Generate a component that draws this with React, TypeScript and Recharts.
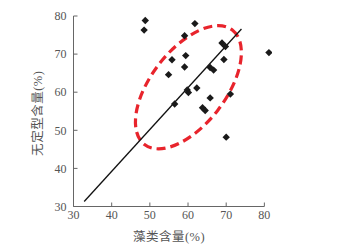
import React from 'react';
import { ScatterChart, Scatter, XAxis, YAxis, ReferenceLine, ReferenceArea } from 'recharts';

// 藻类含量 (x) vs 无定型含量 (y)
const algae = [48.8, 48.5, 61.8, 59.1, 54.9, 55.8, 59.4, 59.1, 59.8, 60.1, 62.3, 56.5, 65.8, 63.8, 64.5, 65.8, 66.7, 68.9, 69.8, 69.4, 71.1, 70.0, 81.2];
const amorphous = [78.8, 76.3, 78.0, 74.8, 64.6, 68.5, 69.6, 66.6, 60.6, 59.9, 61.1, 56.9, 58.5, 55.9, 55.2, 66.5, 65.8, 72.9, 72.0, 68.6, 59.5, 48.2, 70.4];

const ticks = [30, 40, 50, 60, 70, 80];
const fitStart = { x: 32.8, y: 31.3 };
const fitEnd = { x: 74.0, y: 76.6 };

// dashed ellipse annotation (data units, before rotation)
const ellipseCenter = { x: 60.1, y: 61.3 };
const ellipseRadius = { major: 18.9, minor: 9.8 };
const ellipseAngle = 52.5;

const points = algae.map((x, i) => ({ x, y: amorphous[i] }));

const FONT = '"Liberation Serif", "Noto Sans CJK SC", serif';
const AXIS = '#666';

const Diamond = (props: any) => {
  const { cx, cy } = props;
  const r = 3.7;
  return <polygon points={`${cx},${cy - r} ${cx + r},${cy} ${cx},${cy + r} ${cx - r},${cy}`} fill="#1a1a1a" />;
};

const EllipseShape = (props: any) => {
  const { x, y, width, height } = props;
  const cx = x + width / 2;
  const cy = y + height / 2;
  return (
    <ellipse
      cx={cx}
      cy={cy}
      rx={width / 2}
      ry={Math.abs(height) / 2}
      fill="none"
      stroke="#e8242c"
      strokeWidth={3.2}
      strokeDasharray="9 5"
      transform={`rotate(${-ellipseAngle} ${cx} ${cy})`}
    />
  );
};

export default function App() {
  return (
    <div style={{ position: 'absolute', left: 0, top: 0, background: '#fff' }}>
      <ScatterChart width={342} height={249} margin={{ top: 16, right: 70, bottom: 0, left: 0 }} style={{ fontFamily: FONT }}>
        <XAxis
          type="number"
          dataKey="x"
          domain={[30, 82]}
          ticks={ticks}
          allowDataOverflow
          axisLine={false}
          tickSize={-4}
          tickMargin={8}
          tickLine={{ stroke: AXIS }}
          tick={{ fill: '#555', fontSize: 12, fontFamily: FONT }}
          height={42.5}
          label={{
            value: '藻类含量(%)',
            content: (p: any) => {
              const vb = p.viewBox;
              return (
                <text x={vb.x + 95.5} y={vb.y + 30.5} dy="0.35em" textAnchor="middle" fill="#555" fontSize={12.5} letterSpacing={0.5} fontFamily={FONT}>
                  藻类含量(%)
                </text>
              );
            },
          }}
        />
        <YAxis
          type="number"
          dataKey="y"
          domain={[30, 80]}
          ticks={ticks}
          allowDataOverflow
          width={73.5}
          axisLine={{ stroke: AXIS }}
          tickSize={-4}
          tickMargin={11}
          tickLine={{ stroke: AXIS }}
          tick={{ fill: '#555', fontSize: 12, fontFamily: FONT }}
          label={{
            value: '无定型含量(%)',
            content: (p: any) => {
              const vb = p.viewBox;
              const cx = vb.x + 38;
              const cy = vb.y + vb.height / 2 + 2;
              return (
                <text x={cx} y={cy} dy="0.35em" textAnchor="middle" fill="#555" fontSize={12.5} letterSpacing={0.5} fontFamily={FONT} transform={`rotate(-90 ${cx} ${cy})`}>
                  无定型含量(%)
                </text>
              );
            },
          }}
        />
        <ReferenceLine segment={[{ x: 30, y: 30 }, { x: 80, y: 30 }]} stroke={AXIS} strokeWidth={1} ifOverflow="visible" />
        <ReferenceLine segment={[fitStart, fitEnd]} stroke="#111" strokeWidth={1.3} ifOverflow="visible" />
        <Scatter data={points} shape={<Diamond />} isAnimationActive={false} />
        <ReferenceArea
          x1={ellipseCenter.x - ellipseRadius.major}
          x2={ellipseCenter.x + ellipseRadius.major}
          y1={ellipseCenter.y - ellipseRadius.minor}
          y2={ellipseCenter.y + ellipseRadius.minor}
          ifOverflow="visible"
          shape={<EllipseShape />}
        />
      </ScatterChart>
    </div>
  );
}
